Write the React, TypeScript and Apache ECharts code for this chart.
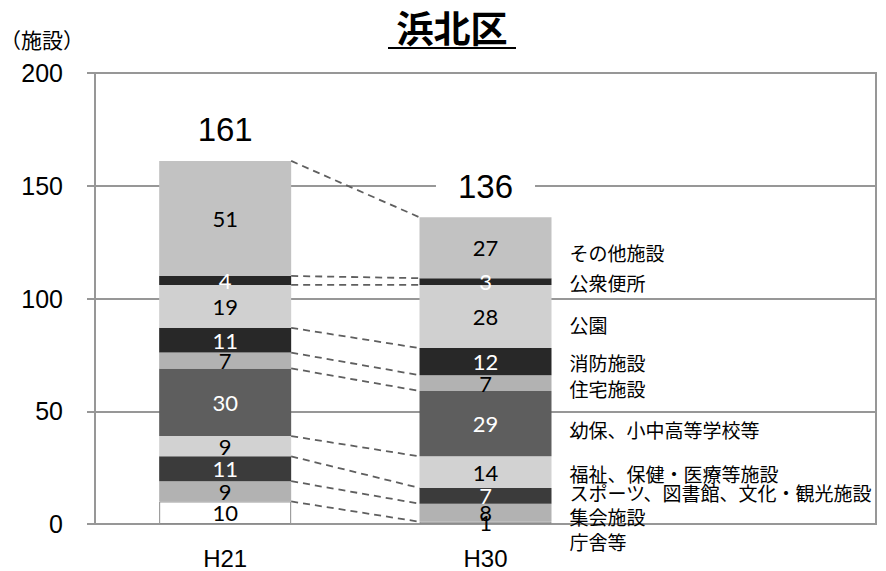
import React, { useEffect, useRef } from "react";
import * as echarts from "echarts";

const categories = ["H21", "H30", ""];
const seriesNames = [
  "庁舎等",
  "集会施設",
  "スポーツ、図書館、文化・観光施設",
  "福祉、保健・医療等施設",
  "幼保、小中高等学校等",
  "住宅施設",
  "消防施設",
  "公園",
  "公衆便所",
  "その他施設",
];
const h21Values = [10, 9, 11, 9, 30, 7, 11, 19, 4, 51];
const h30Values = [1, 8, 7, 14, 29, 7, 12, 28, 3, 27];
const totals = [161, 136];
const yMin = 0;
const yMax = 200;
const yInterval = 50;

const barColors = ["#ffffff", "#b2b2b2", "#3b3b3b", "#d2d2d2", "#5e5e5e", "#b2b2b2", "#282828", "#d0d0d0", "#262626", "#c2c2c2"];
const labelColors = ["#000", "#000", "#fff", "#000", "#fff", "#000", "#fff", "#000", "#fff", "#000"];
const nameNudgeY = [19, 4, -3, 1, 6, 5, 1, 8, 1, 5];

const BAR_W = 132;
const JP = "'Noto Sans CJK JP', sans-serif";
const NUM = "Lato, 'Liberation Sans', sans-serif";
const AX = "'Liberation Sans', Arial, sans-serif";

export default function App() {
  const ref = useRef<HTMLDivElement>(null);
  useEffect(() => {
    if (!ref.current) return;
    const chart = echarts.init(ref.current, undefined, { renderer: "svg" });

    const cum21: number[] = [];
    const cum30: number[] = [];
    let a = 0, b = 0;
    h21Values.forEach((v, i) => { a += v; b += h30Values[i]; cum21.push(a); cum30.push(b); });
    const connectorData = cum21.map((v, i) => [0, v, cum30[i]]);
    const nameData = h30Values.map((v, i) => [1, cum30[i] - v / 2, i]);
    const totalData = totals.map((t, i) => [i, t]);

    const barSeries = seriesNames.map((name, i) => ({
      name,
      type: "bar",
      stack: "total",
      barWidth: BAR_W,
      data: [h21Values[i], h30Values[i], "-"],
      itemStyle: {
        color: barColors[i],
        borderColor: i === 0 ? "#8c8c8c" : undefined,
        borderWidth: i === 0 ? 1 : 0,
      },
      label: {
        show: true,
        position: "inside",
        color: labelColors[i],
        fontSize: 22,
        fontFamily: NUM,
      },
      z: 3,
    }));

    chart.setOption({
      animation: false,
      grid: {
        left: 95,
        right: 10,
        top: 73,
        bottom: 47,
        show: true,
        borderColor: "#979797",
        borderWidth: 2,
        containLabel: false,
      },
      xAxis: {
        type: "category",
        data: categories,
        axisLine: { show: true, lineStyle: { color: "#979797", width: 2 } },
        axisTick: { show: false },
        axisLabel: { color: "#000", fontSize: 24, fontFamily: AX, margin: 22 },
      },
      yAxis: {
        type: "value",
        min: yMin,
        max: yMax,
        interval: yInterval,
        axisLine: { show: true, lineStyle: { color: "#979797", width: 2 } },
        axisTick: { show: true, length: 8, lineStyle: { color: "#979797", width: 2 } },
        axisLabel: { color: "#000", fontSize: 25, fontFamily: AX, margin: 32 },
        splitLine: { show: true, lineStyle: { color: "#979797", width: 2 } },
      },
      series: [
        ...barSeries,
        {
          name: "totals",
          type: "custom",
          clip: false,
          encode: { x: 0, y: 1 },
          data: totalData,
          renderItem: (_p: any, api: any) => {
            const p = api.coord([api.value(0), api.value(1)]);
            return {
              type: "text",
              x: p[0],
              y: p[1] - 31,
              style: {
                text: String(api.value(1)),
                fontSize: 33,
                fontFamily: AX,
                fill: "#000",
                align: "center",
                verticalAlign: "middle",
                backgroundColor: "#fff",
                padding: [2, 22],
              },
            };
          },
          z: 6,
        },
        {
          name: "connectors",
          type: "custom",
          clip: false,
          encode: { x: 0, y: [1, 2] },
          data: connectorData,
          renderItem: (_p: any, api: any) => {
            const p1 = api.coord([0, api.value(1)]);
            const p2 = api.coord([1, api.value(2)]);
            return {
              type: "line",
              shape: { x1: p1[0] + BAR_W / 2, y1: p1[1], x2: p2[0] - BAR_W / 2, y2: p2[1] },
              style: { stroke: "#5f5f5f", lineWidth: 1.8, lineDash: [7, 5] },
            };
          },
          z: 4,
        },
        {
          name: "names",
          type: "custom",
          clip: false,
          encode: { x: 0, y: 1 },
          data: nameData,
          renderItem: (_p: any, api: any) => {
            const idx = api.value(2);
            const p = api.coord([1, api.value(1)]);
            return {
              type: "text",
              x: p[0] + BAR_W / 2 + 18,
              y: p[1] + nameNudgeY[idx],
              style: {
                text: seriesNames[idx],
                fontSize: 19,
                fontFamily: JP,
                fill: "#000",
                align: "left",
                verticalAlign: "middle",
              },
            };
          },
          z: 5,
        },
      ],
      graphic: [
        {
          type: "text",
          x: 452,
          y: 27,
          style: {
            text: "浜北区",
            fontSize: 37,
            fontWeight: "bold",
            fontFamily: JP,
            fill: "#000",
            align: "center",
            verticalAlign: "middle",
          },
        },
        {
          type: "line",
          shape: { x1: 388, y1: 48, x2: 516, y2: 48 },
          style: { stroke: "#000", lineWidth: 2 },
        },
        {
          type: "text",
          x: 0,
          y: 39,
          style: {
            text: "（施設）",
            fontSize: 21,
            fontFamily: JP,
            fill: "#000",
            align: "left",
            verticalAlign: "middle",
          },
        },
      ],
    });
    return () => chart.dispose();
  }, []);
  return <div ref={ref} style={{ width: 886, height: 571, position: "absolute", left: 0, top: 0 }} />;
}
